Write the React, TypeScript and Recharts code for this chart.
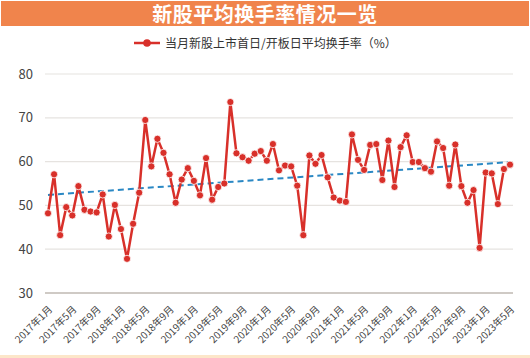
import { LineChart, Line, XAxis, YAxis, CartesianGrid, ReferenceLine, Legend } from "recharts";

// 当月新股上市首日/开板日平均换手率（%）, one array per year
const rate2017 = [48.2, 57.1, 43.2, 49.6, 47.7, 54.4, 49.0, 48.6, 48.4, 52.5, 42.9, 50.1];
const rate2018 = [44.6, 37.8, 45.8, 52.9, 69.5, 58.9, 65.2, 62.0, 57.1, 50.6, 55.9, 58.5];
const rate2019 = [55.6, 52.3, 60.8, 51.3, 54.2, 55.0, 73.6, 61.9, 61.0, 60.2, 61.8, 62.4];
const rate2020 = [60.2, 64.0, 58.0, 59.1, 58.9, 54.5, 43.2, 61.4, 59.5, 61.5, 56.4, 51.8];
const rate2021 = [51.1, 50.8, 66.2, 60.4, 58.1, 63.8, 64.0, 55.8, 64.8, 54.2, 63.3, 66.0];
const rate2022 = [59.9, 59.9, 58.5, 57.7, 64.6, 63.1, 54.5, 63.9, 54.4, 50.6, 53.5, 40.3];
const rate2023 = [57.5, 57.3, 50.3, 58.3, 59.3];

const years = [2017, 2018, 2019, 2020, 2021, 2022, 2023];
const yearly = [rate2017, rate2018, rate2019, rate2020, rate2021, rate2022, rate2023];

// dashed trend line end points
const trendStart = 52.4;
const trendEnd = 59.9;

const yTicks = [30, 40, 50, 60, 70, 80];

const data: { month: string; rate: number }[] = [];
years.forEach((y, i) => {
  yearly[i].forEach((v, m) => {
    data.push({ month: `${y}年${m + 1}月`, rate: v });
  });
});

const RED = "#d8302a";
const FONT = "'Noto Sans CJK SC', 'Noto Sans', sans-serif";

const XTick = (props: any) => {
  const { x, y, payload } = props;
  return (
    <text
      x={x + 5}
      y={y + 9}
      transform={`rotate(-45, ${x + 5}, ${y + 9})`}
      textAnchor="end"
      fontSize={10}
      fill="#444"
      fontFamily={FONT}
    >
      {payload.value}
    </text>
  );
};

const LegendContent = () => (
  <div style={{ display: "flex", justifyContent: "center", alignItems: "center", fontFamily: FONT }}>
    <svg width={28} height={12} style={{ marginRight: 4 }}>
      <line x1={1} y1={6} x2={27} y2={6} stroke={RED} strokeWidth={2.5} />
      <circle cx={14} cy={6} r={3.8} fill={RED} />
    </svg>
    <span style={{ fontSize: 12, color: "#333" }}>当月新股上市首日/开板日平均换手率（%）</span>
  </div>
);

export default function App() {
  return (
    <div style={{ position: "absolute", left: 0, top: 0, width: 530, height: 358, background: "#fff", fontFamily: FONT }}>
      <div
        style={{
          position: "absolute",
          left: 1,
          top: 1,
          width: 528,
          height: 25,
          background: "#f0844c",
          color: "#fff",
          fontSize: 20,
          fontWeight: 700,
          lineHeight: "25px",
          textAlign: "center",
          letterSpacing: 0.5,
        }}
      >
        新股平均换手率情况一览
      </div>
      <div style={{ position: "absolute", left: 0, top: 355, width: 530, height: 3, background: "#fce6c9" }} />
      <LineChart
        width={530}
        height={358}
        data={data}
        margin={{ top: 57, right: 17, left: 0, bottom: 5 }}
        style={{ position: "absolute", left: 0, top: 0 }}
      >
        <CartesianGrid vertical={false} stroke="#e6e3e0" strokeWidth={1.2} />
        <XAxis
          dataKey="month"
          interval={3}
          tick={<XTick />}
          tickLine={false}
          axisLine={{ stroke: "#cfcac5", strokeWidth: 2 }}
          height={60}
          padding={{ left: 3, right: 3 }}
        />
        <YAxis
          domain={[30, 80]}
          ticks={yTicks}
          width={45}
          axisLine={false}
          tickLine={false}
          tickSize={0}
          tickMargin={12}
          tick={{ fontSize: 13, fill: "#444", fontFamily: FONT }}
        />
        <Legend verticalAlign="top" content={<LegendContent />} wrapperStyle={{ top: 34, left: 0, width: 530 }} />
        <ReferenceLine
          segment={[
            { x: data[0].month, y: trendStart },
            { x: data[data.length - 1].month, y: trendEnd },
          ]}
          stroke="#2a88c4"
          strokeWidth={2}
          strokeDasharray="6 4"
          ifOverflow="visible"
        />
        <Line
          type="linear"
          dataKey="rate"
          stroke={RED}
          strokeWidth={2.5}
          dot={{ r: 3.6, fill: RED, stroke: "#fff", strokeWidth: 0.8 }}
          activeDot={false}
          isAnimationActive={false}
        />
      </LineChart>
    </div>
  );
}
